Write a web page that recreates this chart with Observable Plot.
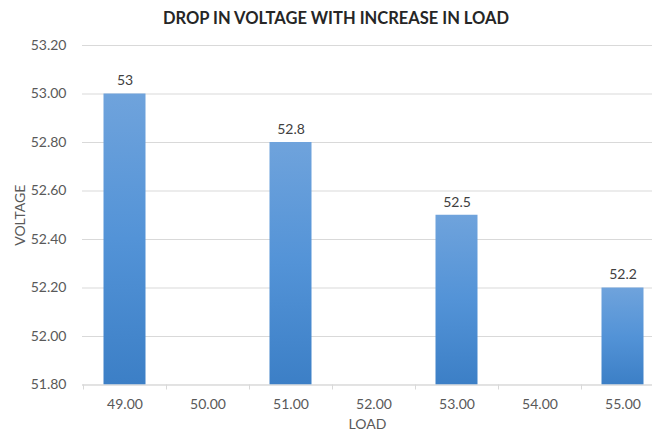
<!DOCTYPE html>
<html>
<head>
<meta charset="utf-8">
<script src="https://cdn.jsdelivr.net/npm/d3@7"></script>
<script src="https://cdn.jsdelivr.net/npm/@observablehq/plot@0.6"></script>
<style>
  html, body { margin: 0; padding: 0; background: #fff; }
  #wrap { width: 652px; height: 434px; position: relative; font-family: Lato, "Open Sans", sans-serif; }
  #title { height: 30px; line-height: 36px; text-align: center; font-weight: bold; font-size: 16.5px; color: #262626; padding-left: 20px; box-sizing: border-box; }
</style>
</head>
<body>
<div id="wrap">
  <div id="title">DROP IN VOLTAGE WITH INCREASE IN LOAD</div>
  <div id="chart"></div>
</div>
<script>
const loads = ["49.00", "50.00", "51.00", "52.00", "53.00", "54.00", "55.00"];
const barLoads = ["49.00", "51.00", "53.00", "55.00"];
const voltages = [53, 52.8, 52.5, 52.2];
const voltageLabels = ["53", "52.8", "52.5", "52.2"];
const yTicks = [51.8, 52.0, 52.2, 52.4, 52.6, 52.8, 53.0, 53.2];

const data = barLoads.map((l, i) => ({load: l, voltage: voltages[i], label: voltageLabels[i]}));
const yMin = yTicks[0], yMax = yTicks[yTicks.length - 1];
const textColor = "#595959";

const chart = Plot.plot({
  width: 652,
  height: 404,
  marginTop: 15,
  marginBottom: 49.5,
  marginLeft: 82,
  marginRight: 0,
  style: {fontFamily: "Lato, 'Open Sans', sans-serif", fontSize: "14px", color: textColor, background: "#fff"},
  x: {type: "band", domain: loads, range: [82, 664], padding: 0, label: null},
  y: {domain: [yMin, yMax], label: null},
  marks: [
    Plot.gridY(yTicks, {stroke: "#d9d9d9", strokeOpacity: 1, strokeWidth: 1}),
    Plot.barY(data, {x: "load", y1: () => yMin, y2: "voltage", fill: "url(#barGrad)", insetLeft: 20.5, insetRight: 20.5}),
    Plot.ruleY([yMin], {stroke: "#d9d9d9", strokeWidth: 1}),
    Plot.axisY(yTicks, {tickSize: 0, tickPadding: 16, tickFormat: d3.format(".2f"), fontSize: 14, fill: textColor, label: null}),
    Plot.axisX({tickSize: 5, dx: -41.5, tickFormat: () => "", stroke: "#d9d9d9", label: null}),
    Plot.axisX({tickSize: 0, tickPadding: 14, fontSize: 14, fill: textColor, label: null}),
    Plot.text(data, {x: "load", y: "voltage", text: "label", dy: -13, fontSize: 14, fill: "#404040"}),
    Plot.text(["LOAD"], {frameAnchor: "bottom", lineAnchor: "middle", dy: 40, fontSize: 14, fill: textColor}),
    Plot.text(["VOLTAGE"], {frameAnchor: "left", textAnchor: "middle", dx: -62, rotate: -90, fontSize: 14, fill: textColor})
  ]
});

const svgNS = "http://www.w3.org/2000/svg";
const defs = document.createElementNS(svgNS, "defs");
defs.innerHTML = `<linearGradient id="barGrad" x1="0" y1="0" x2="0" y2="1">
  <stop offset="0%" stop-color="#6fa3dc"/>
  <stop offset="50%" stop-color="#5393d7"/>
  <stop offset="100%" stop-color="#3c7fc6"/>
</linearGradient>`;
chart.insertBefore(defs, chart.firstChild);
document.getElementById("chart").appendChild(chart);
</script>
</body>
</html>
